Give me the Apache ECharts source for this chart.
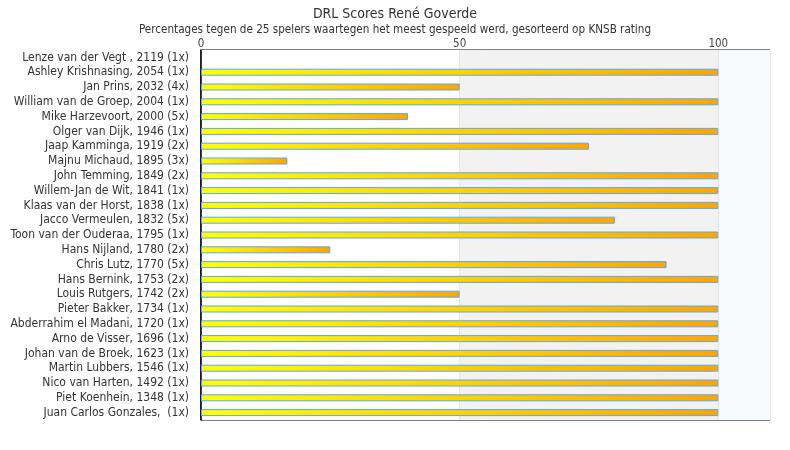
<!DOCTYPE html>
<html>
<head>
<meta charset="utf-8">
<script src="https://cdn.jsdelivr.net/npm/echarts@6/dist/echarts.min.js"></script>
<style>
html,body{margin:0;padding:0;background:#fff;}
#chart{width:790px;height:450px;}
</style>
</head>
<body>
<div id="chart"></div>
<script>
const players = [
  "Lenze van der Vegt , 2119 (1x)",
  "Ashley Krishnasing, 2054 (1x)",
  "Jan Prins, 2032 (4x)",
  "William van de Groep, 2004 (1x)",
  "Mike Harzevoort, 2000 (5x)",
  "Olger van Dijk, 1946 (1x)",
  "Jaap Kamminga, 1919 (2x)",
  "Majnu Michaud, 1895 (3x)",
  "John Temming, 1849 (2x)",
  "Willem-Jan de Wit, 1841 (1x)",
  "Klaas van der Horst, 1838 (1x)",
  "Jacco Vermeulen, 1832 (5x)",
  "Toon van der Ouderaa, 1795 (1x)",
  "Hans Nijland, 1780 (2x)",
  "Chris Lutz, 1770 (5x)",
  "Hans Bernink, 1753 (2x)",
  "Louis Rutgers, 1742 (2x)",
  "Pieter Bakker, 1734 (1x)",
  "Abderrahim el Madani, 1720 (1x)",
  "Arno de Visser, 1696 (1x)",
  "Johan van de Broek, 1623 (1x)",
  "Martin Lubbers, 1546 (1x)",
  "Nico van Harten, 1492 (1x)",
  "Piet Koenhein, 1348 (1x)",
  "Juan Carlos Gonzales,  (1x)"
];
const percentages = [0, 100, 50, 100, 40, 100, 75, 16.7, 100, 100, 100, 80, 100, 25, 90, 100, 50, 100, 100, 100, 100, 100, 100, 100, 100];
const xTicks = [0, 50, 100];
const titleText = "DRL Scores René Goverde";
const subtitleText = "Percentages tegen de 25 spelers waartegen het meest gespeeld werd, gesorteerd op KNSB rating";

const FONT = '"DejaVu Sans Condensed", "DejaVu Sans", sans-serif';
const chart = echarts.init(document.getElementById('chart'), null, {renderer: 'canvas'});
chart.setOption({
  animation: false,
  backgroundColor: '#ffffff',
  title: {
    text: titleText,
    subtext: subtitleText,
    left: 'center',
    top: 2,
    itemGap: 3,
    textStyle: {fontFamily: FONT, fontSize: 14, fontWeight: 'normal', color: '#333'},
    subtextStyle: {fontFamily: FONT, fontSize: 11.6, color: '#333'}
  },
  grid: {left: 201, right: 20, top: 50, bottom: 30, show: true, borderColor: '#000', borderWidth: 1, backgroundColor: 'transparent'},
  xAxis: {
    type: 'value',
    position: 'top',
    min: 0,
    max: 110,
    interval: 50,
    axisLine: {show: false},
    axisTick: {show: false},
    axisLabel: {
      fontFamily: FONT, fontSize: 11.5, color: '#444', margin: 0,
      showMaxLabel: false,
      formatter: v => xTicks.includes(v) ? String(v) : ''
    },
    splitLine: {show: true, lineStyle: {color: '#e4e4e4', width: 1}},
    splitArea: {show: true, areaStyle: {color: ['#ffffff', '#f2f2f2', '#f8fbfe']}}
  },
  yAxis: {
    type: 'category',
    data: players,
    inverse: true,
    axisLine: {show: true, lineStyle: {color: '#000', width: 1.5}},
    axisTick: {show: false},
    axisLabel: {interval: 0, fontFamily: FONT, fontSize: 12, color: '#333', margin: 12}
  },
  series: [{
    type: 'bar',
    data: percentages.map(v => v === 0 ? {value: v, itemStyle: {borderWidth: 0}} : v),
    barWidth: 7,
    itemStyle: {
      borderColor: '#5aa7ee',
      borderWidth: 1,
      color: new echarts.graphic.LinearGradient(0, 0, 1, 0, [
        {offset: 0, color: '#ffff00'},
        {offset: 1, color: '#ffa500'}
      ])
    }
  }]
});
</script>
</body>
</html>
